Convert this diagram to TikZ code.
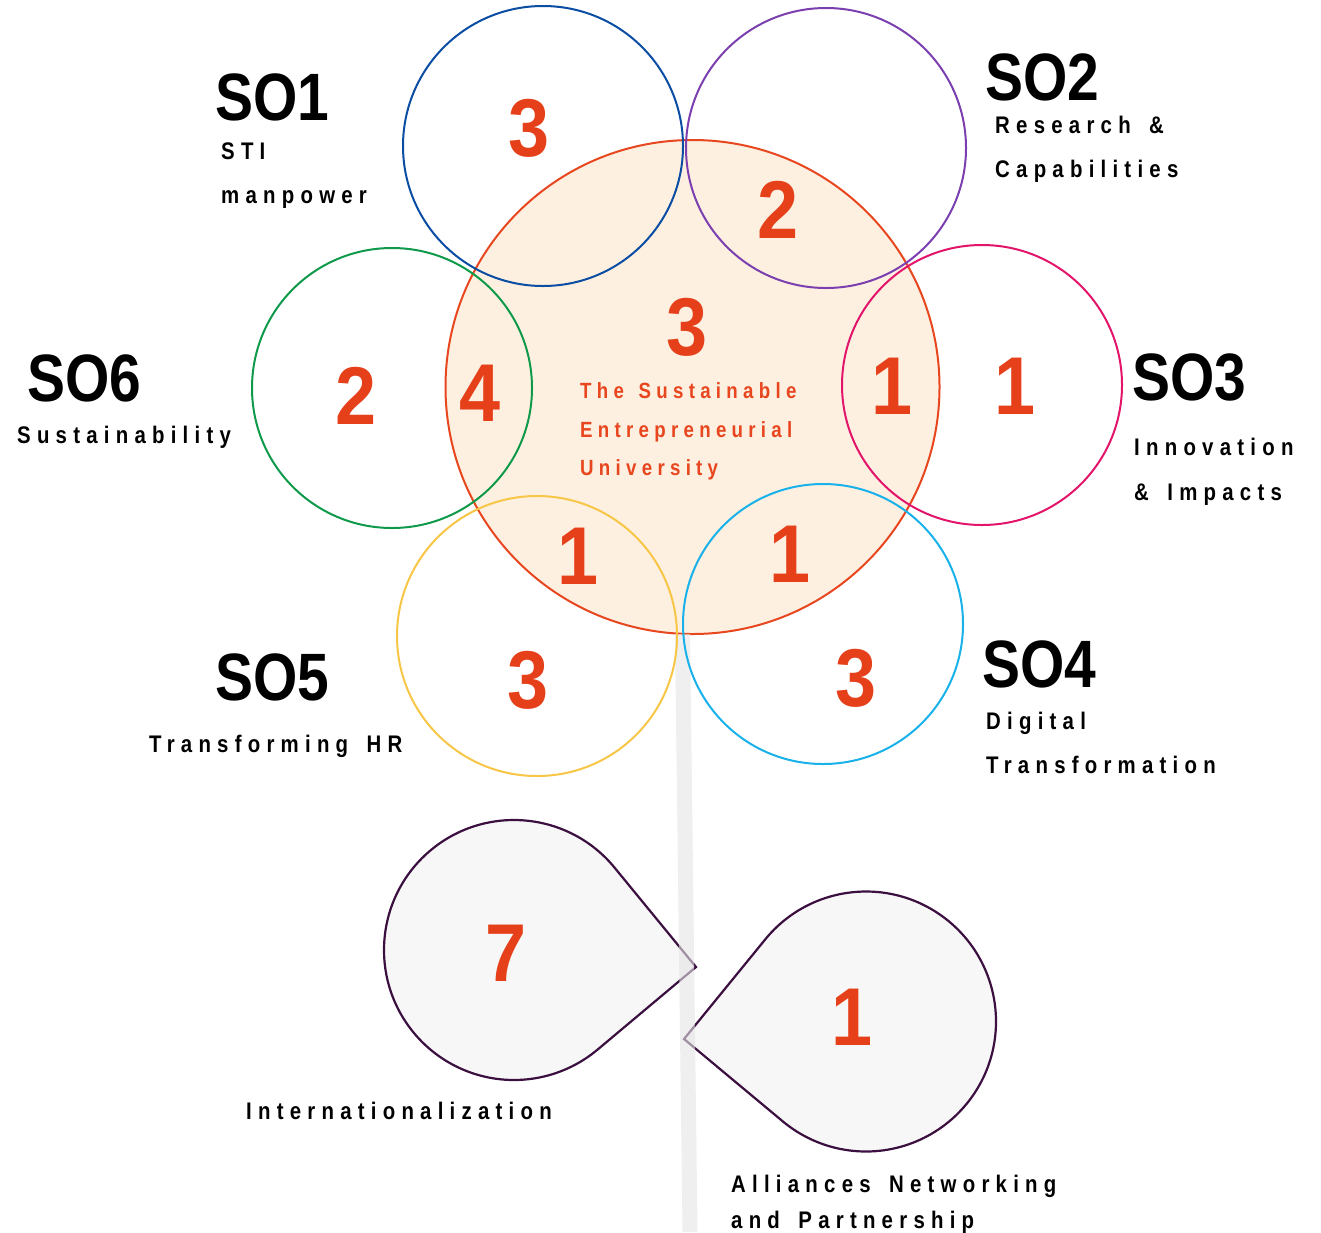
\documentclass[tikz,border=0pt]{standalone}
\usepackage{fontspec}
\setmainfont{Liberation Sans}
\newfontfamily\sofont{Liberation Sans}[FakeStretch=0.85]
\newfontfamily\numfont{Liberation Sans}[FakeStretch=0.9]
\newfontfamily\lblfont{Liberation Sans}[FakeStretch=0.85,LetterSpace=26,WordSpace=1.55]
\newfontfamily\ctrfont{Liberation Sans}[FakeStretch=0.85,LetterSpace=24,WordSpace=1.4]
\usetikzlibrary{calc}
\definecolor{cblue}{HTML}{0A4DA2}
\definecolor{cpurple}{HTML}{7B3FB0}
\definecolor{cpink}{HTML}{E2156B}
\definecolor{ccyan}{HTML}{18B1EA}
\definecolor{cyellow}{HTML}{F8C646}
\definecolor{cgreen}{HTML}{0E9A4A}
\definecolor{corange}{HTML}{E8461E}
\definecolor{cnum}{HTML}{E5401A}
\definecolor{cpeach}{HTML}{FDF0E1}
\definecolor{cleaf}{HTML}{F7F7F7}
\definecolor{cleafline}{HTML}{3B0F3F}
\definecolor{cstem}{HTML}{E4E4E4}
\begin{document}
\begin{tikzpicture}[x=1pt,y=-1pt,
  ring/.style={circle,minimum size=280pt,inner sep=0,line width=2pt},
  solbl/.style={anchor=base west,inner sep=0,font=\sofont\bfseries\fontsize{67}{67}\selectfont},
  sub/.style={anchor=base west,inner sep=0,font=\lblfont\bfseries\fontsize{24}{24}\selectfont},
  ctr/.style={anchor=base west,inner sep=0,text=corange,font=\ctrfont\bfseries\fontsize{22}{22}\selectfont},
  num/.style={inner sep=0,text=cnum,font=\numfont\bfseries\fontsize{82}{82}\selectfont},
  leaf/.style={fill=cleaf,draw=cleafline,line width=2.2pt,line join=miter}]
\useasboundingbox (0,0) rectangle (1321,1232);
% central circle
\node[circle,minimum size=494pt,inner sep=0,fill=cpeach,draw=corange,line width=2pt] (core) at (692.5,387) {};
% leaves
\coordinate (l1c) at (514,950);
\coordinate (l1tip) at (696,967);
\coordinate (l2c) at (866,1021.5);
\coordinate (l2tip) at (684,1039);
\draw[leaf] (l1tip) -- ($(l1c)+(-39.4:130)$) arc[start angle=-39.4,end angle=-310,radius=130] -- cycle;
\draw[leaf] (l2tip) -- ($(l2c)+(219.2:130)$) arc[start angle=219.2,end angle=489.8,radius=130] -- cycle;
% stem
\coordinate (stemtop) at (682.5,634);
\coordinate (stembot) at (690,1232);
\draw[cstem,line width=15pt,opacity=0.6] (stemtop) -- (stembot);
% rings
\node[ring,draw=cblue] (r1) at (543,146) {};
\node[ring,draw=cpurple] (r2) at (826,148) {};
\node[ring,draw=cpink] (r3) at (982,385) {};
\node[ring,draw=ccyan] (r4) at (823,624) {};
\node[ring,draw=cyellow] (r5) at (537,636) {};
\node[ring,draw=cgreen] (r6) at (392,388) {};
% numbers
\node[num] (n1) at (529,128) {3};
\node[num] (n2) at (778,210) {2};
\node[num] (n3) at (687,327) {3};
\node[num] (n4) at (356,396) {2};
\node[num] (n5) at (480.5,393) {4};
\node[num] (n6) at (892,386) {1};
\node[num] (n7) at (1015,386) {1};
\node[num] (n8) at (578,556) {1};
\node[num] (n9) at (790,554) {1};
\node[num] (n10) at (528,680) {3};
\node[num] (n11) at (856,678) {3};
\node[num] (n12) at (506,953) {7};
\node[num] (n13) at (852,1017) {1};
% center text
\node[ctr] (t1) at (580,398) {The Sustainable};
\node[ctr] (t2) at (580,437) {Entrepreneurial};
\node[ctr] (t3) at (580,475) {University};
% SO labels
\node[solbl] (so1) at (215,120) {SO1};
\node[sub] (so1a) at (221,159) {STI};
\node[sub] (so1b) at (221,203) {manpower};
\node[solbl] (so2) at (985,100) {SO2};
\node[sub] (so2a) at (995,133) {Research \&};
\node[sub] (so2b) at (995,177) {Capabilities};
\node[solbl] (so3) at (1132,400) {SO3};
\node[sub] (so3a) at (1134,455) {Innovation};
\node[sub] (so3b) at (1134,500) {\& Impacts};
\node[solbl] (so4) at (982,687) {SO4};
\node[sub] (so4a) at (986,729) {Digital};
\node[sub] (so4b) at (986,773) {Transformation};
\node[solbl] (so5) at (215,700) {SO5};
\node[sub] (so5a) at (149,752) {Transforming HR};
\node[solbl] (so6) at (27,401) {SO6};
\node[sub] (so6a) at (17,443) {Sustainability};
\node[sub] (lf1) at (246,1119) {Internationalization};
\node[sub] (lf2a) at (731,1192) {Alliances Networking};
\node[sub] (lf2b) at (731,1228) {and Partnership};
\end{tikzpicture}
\end{document}
